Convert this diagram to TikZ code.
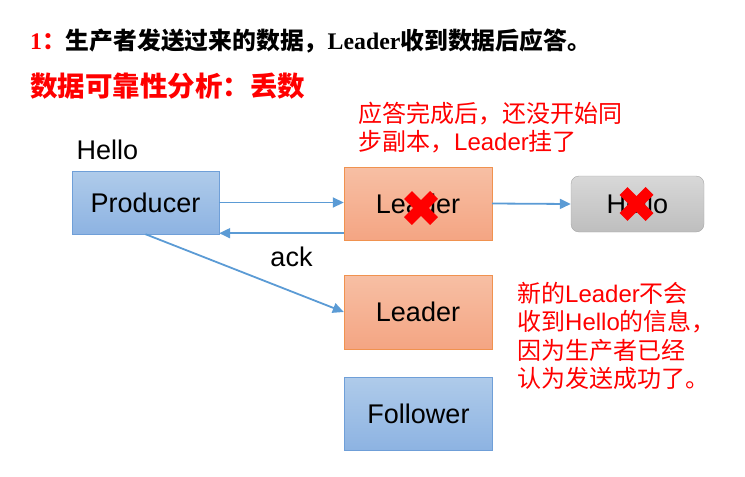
\documentclass[tikz,border=0pt]{standalone}
\usepackage{fontspec}
\setmainfont{Liberation Sans}
\newfontfamily\cjk{Noto Sans CJK SC}
\newfontfamily\serifb{Liberation Serif}
\usepackage{tikz}
\usetikzlibrary{arrows.meta, positioning, calc}
\usepackage{xcolor}
\definecolor{blueTop}{HTML}{AFCBEA}
\definecolor{blueBot}{HTML}{8DB3E2}
\definecolor{blueLine}{HTML}{6F9FD8}
\definecolor{orgTop}{HTML}{F7BFA4}
\definecolor{orgBot}{HTML}{F4A583}
\definecolor{orgLine}{HTML}{F0924F}
\definecolor{grayTop}{HTML}{D8D8D8}
\definecolor{grayBot}{HTML}{BEBEBE}
\definecolor{grayLine}{HTML}{A6A6A6}
\definecolor{arrowBlue}{HTML}{5B9BD5}
\newcommand\zh[1]{{\cjk #1}}

\begin{document}
\begin{tikzpicture}[x=1pt, y=-1pt,
    box/.style={minimum width=148pt, minimum height=73pt, inner sep=0pt, align=center, font=\fontsize{27}{30}\selectfont},
    bluebox/.style={box, draw=blueLine, top color=blueTop, bottom color=blueBot},
    orgbox/.style={box, draw=orgLine, top color=orgTop, bottom color=orgBot},
    graybox/.style={box, draw=grayLine, top color=grayTop, bottom color=grayBot, rounded corners=8pt},
    arrow/.style={-{Triangle[length=11pt, width=10pt]}, arrowBlue, line width=1.8pt},
    note/.style={red, align=left, anchor=north west, inner sep=0pt, font=\fontsize{24}{28.3}\selectfont},
    cross/.style={red, line width=11pt}
]
    \useasboundingbox (0,0) rectangle (745,477);
    % titles
    \node[anchor=west, inner sep=0pt, font=\fontsize{23.8}{26}\selectfont\bfseries] (t1) at (30,41)
        {{\serifb\color{red}1}{\cjk\color{red}：}\zh{生产者发送过来的数据，}{\serifb Leader}\zh{收到数据后应答。}};
    \node[anchor=west, inner sep=0pt, red, font=\fontsize{27.5}{30}\selectfont\bfseries\cjk] (t2) at (30,86)
        {数据可靠性分析：丢数};
    % boxes
    \node[bluebox, minimum width=147pt, minimum height=63pt] (p) at (145.5,202.5) {Producer};
    \node[orgbox] (ld) at (418,203.5) {Leader};
    \node[graybox, minimum width=133pt, minimum height=56pt] (h) at (637.5,204) {Hello};
    \node[orgbox, minimum height=74pt] (ld2) at (418,312) {Leader};
    \node[bluebox] (f) at (418.5,413.5) {Follower};
    % labels
    \node[font=\fontsize{27}{30}\selectfont, inner sep=0pt] (msg) at (107.5,150) {Hello};
    \node[font=\fontsize{27}{30}\selectfont, inner sep=0pt] (ack) at (291.5,257) {ack};
    \node[note] (n1) at (358,102) {\zh{应答完成后，还没开始同}\\\zh{步副本，}Leader\zh{挂了}};
    \node[note] (n2) at (517,282) {\zh{新的}Leader\zh{不会}\\\zh{收到}Hello\zh{的信息，}\\\zh{因为生产者已经}\\\zh{认为发送成功了。}};
    % arrows
    \draw[arrow] (p.east) -- (p.east -| ld.west);
    \draw[arrow] ([yshift=7pt]ld.south west) -- ([yshift=7pt]ld.south west -| p.east);
    \draw[arrow] (p.south) -- (ld2.west);
    \draw[arrow] (ld.east) -- (h.west);
    % crosses
    \coordinate (x1) at ($(ld.center)+(3,4.5)$);
    \coordinate (x2) at ($(h.center)+(-1,0)$);
    \foreach \c in {x1,x2} {
        \draw[cross] ($(\c)+(-13,-13)$) -- ($(\c)+(13,13)$);
        \draw[cross] ($(\c)+(-13,13)$) -- ($(\c)+(13,-13)$);
    }
\end{tikzpicture}
\end{document}
